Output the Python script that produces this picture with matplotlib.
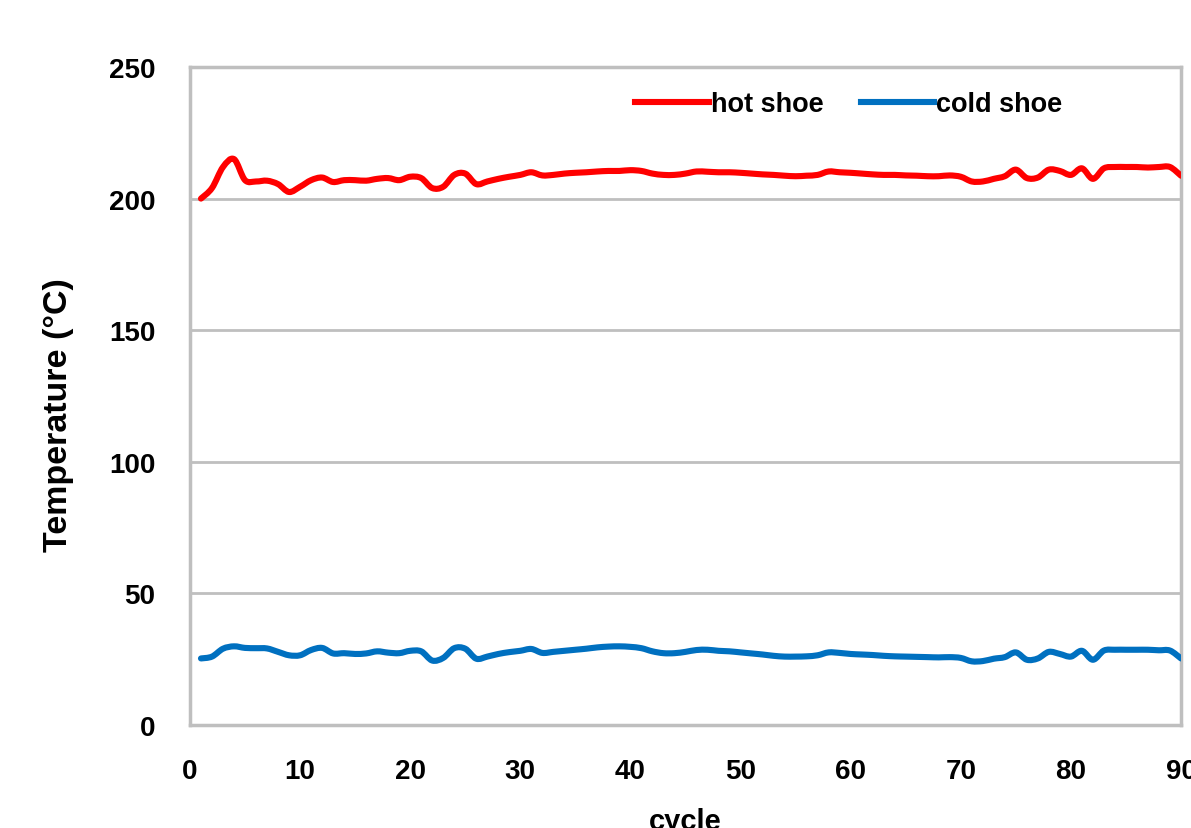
import matplotlib.pyplot as plt
from matplotlib.path import Path
from matplotlib.patches import PathPatch
from matplotlib.lines import Line2D

plt.rcParams['font.family'] = ['Liberation Sans', 'DejaVu Sans']

cycles = list(range(1, 91))

hot_shoe = [200, 204, 212, 215, 207, 206.5, 206.8, 205.5, 202.5, 204.5,
            207, 208, 206.3, 207, 207, 206.8, 207.5, 207.8, 207, 208.3,
            207.8, 204, 204.5, 209, 209.5, 205.5, 206.5, 207.5, 208.3, 209,
            210, 208.8, 209, 209.5, 209.8, 210, 210.3, 210.5, 210.5, 210.8,
            210.5, 209.5, 209, 209, 209.5, 210.3, 210.2, 210, 210, 209.8,
            209.5, 209.2, 209, 208.7, 208.5, 208.7, 209, 210.3, 210, 209.8,
            209.5, 209.2, 209, 209, 208.8, 208.7, 208.5, 208.5, 208.8, 208.3,
            206.5, 206.5, 207.5, 208.5, 211, 207.8, 208, 211, 210.5, 209,
            211.5, 207.5, 211.5, 212, 212, 212, 211.8, 212, 212, 208.7]

cold_shoe = [25.3, 26, 29, 29.9, 29.3, 29.2, 29.1, 27.8, 26.5, 26.5,
             28.5, 29.3, 27.2, 27.3, 27, 27.2, 28, 27.5, 27.3, 28.2,
             28, 24.5, 25.5, 29.2, 29, 25.2, 26, 27, 27.7, 28.2,
             28.9, 27.4, 27.8, 28.2, 28.6, 29, 29.5, 29.8, 29.9, 29.7,
             29.2, 28, 27.3, 27.3, 27.8, 28.5, 28.6, 28.2, 28, 27.6,
             27.2, 26.8, 26.3, 26, 26, 26.1, 26.5, 27.6, 27.4, 27,
             26.8, 26.6, 26.3, 26.1, 26, 25.9, 25.8, 25.7, 25.8, 25.5,
             24.2, 24.3, 25.2, 25.8, 27.6, 24.8, 25.3, 27.8, 27, 26,
             28.2, 24.8, 28.3, 28.6, 28.6, 28.6, 28.6, 28.4, 28.3, 25.3]

x_ticks = [0, 10, 20, 30, 40, 50, 60, 70, 80, 90]
y_ticks = [0, 50, 100, 150, 200, 250]


def smooth_path(xs, ys):
    """Cubic Bezier through every point, like a spreadsheet 'smoothed line'."""
    pts = list(zip(xs, ys))
    n = len(pts)
    verts = [pts[0]]
    codes = [Path.MOVETO]
    for i in range(n - 1):
        p0 = pts[i - 1] if i > 0 else pts[i]
        p1 = pts[i]
        p2 = pts[i + 1]
        p3 = pts[i + 2] if i + 2 < n else pts[i + 1]
        c1 = (p1[0] + (p2[0] - p0[0]) / 6, p1[1] + (p2[1] - p0[1]) / 6)
        c2 = (p2[0] - (p3[0] - p1[0]) / 6, p2[1] - (p3[1] - p1[1]) / 6)
        verts += [c1, c2, p2]
        codes += [Path.CURVE4] * 3
    return Path(verts, codes)


fig = plt.figure(figsize=(11.91, 8.29), dpi=100)
ax = fig.add_axes([0.1595, 0.1242, 0.8321, 0.7938])

grid_grey = '#BFBFBF'
for y in y_ticks[1:-1]:
    ax.axhline(y, color=grid_grey, linewidth=2, zorder=1)

series = [('hot shoe', hot_shoe, '#FF0000'), ('cold shoe', cold_shoe, '#0070C0')]
handles = []
for name, values, color in series:
    ax.add_patch(PathPatch(smooth_path(cycles, values), facecolor='none',
                           edgecolor=color, linewidth=4.4, joinstyle='round',
                           capstyle='round', zorder=3))
    handles.append(Line2D([], [], color=color, linewidth=4.4, label=name))

ax.set_xlim(0, 90)
ax.set_ylim(0, 250)
ax.set_xticks(x_ticks)
ax.set_yticks(y_ticks)
ax.tick_params(axis='y', length=0, labelsize=20, pad=25)
ax.tick_params(axis='x', length=0, labelsize=20, pad=24)
for lbl in ax.get_xticklabels() + ax.get_yticklabels():
    lbl.set_fontweight('bold')

for side in ['left', 'right', 'top', 'bottom']:
    ax.spines[side].set_color(grid_grey)
    ax.spines[side].set_linewidth(2.5)

ax.set_ylabel('Temperature (°C)', fontsize=24.5, fontweight='bold')
ax.yaxis.set_label_coords(-0.117, 0.473)
ax.set_xlabel('cycle', fontsize=21, fontweight='bold', labelpad=16)

ax.legend(handles=handles, loc='upper right', ncol=2, frameon=False,
          prop={'weight': 'bold', 'size': 19.5}, handlelength=2.7,
          handletextpad=0.1, columnspacing=1.35, bbox_to_anchor=(0.905, 1.0))

fig.savefig('out.png', dpi=100)
